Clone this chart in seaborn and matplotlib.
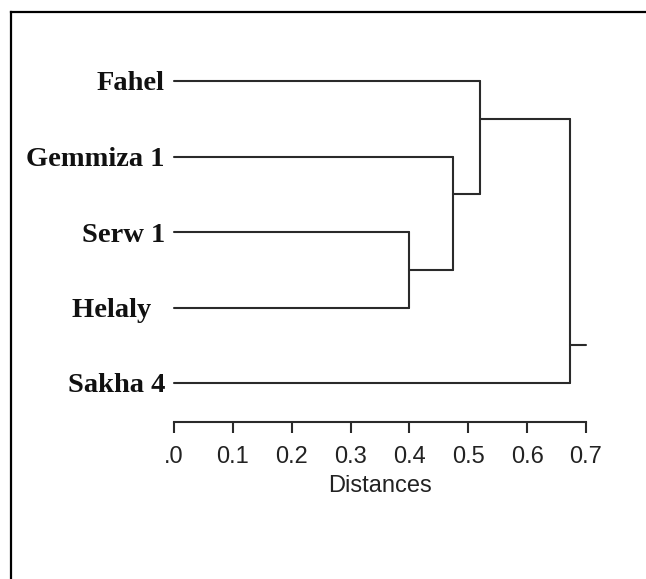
import numpy as np
import pandas as pd
import matplotlib
matplotlib.use("Agg")
import matplotlib.pyplot as plt
import seaborn as sns

# leaves, top to bottom (the Helaly label carries trailing spaces in the original)
leaves = ["Fahel", "Gemmiza 1", "Serw 1", "Helaly  ", "Sakha 4"]
# merges (left child, right child) -> new cluster c1, c2, ...
merge_left = ["Serw 1", "Gemmiza 1", "Fahel", "c3"]
merge_right = ["Helaly  ", "c1", "c2", "Sakha 4"]
merge_dist = [0.40, 0.474, 0.52, 0.673]
root_tail = 0.70

tick_vals = [0.0, 0.1, 0.2, 0.3, 0.4, 0.5, 0.6, 0.7]
tick_text = [".0", "0.1", "0.2", "0.3", "0.4", "0.5", "0.6", "0.7"]

sns.set_style("white")
plt.rcParams["font.family"] = ["Liberation Sans", "DejaVu Sans"]

# build line segments of the tree
nodes = {}
for i, name in enumerate(leaves):
    # x, anchor y, first leaf, last leaf
    nodes[name] = (0.0, float(i), i, i)

rows = []
seg = 0
for k in range(len(merge_dist)):
    a = nodes[merge_left[k]]
    b = nodes[merge_right[k]]
    d = merge_dist[k]
    # horizontal from each child, then the vertical join
    for child in (a, b):
        rows.append((seg, child[0], child[1])); rows.append((seg, d, child[1])); seg += 1
    rows.append((seg, d, a[1])); rows.append((seg, d, b[1])); seg += 1
    anchor = (a[3] + b[2]) / 2
    nodes["c%d" % (k + 1)] = (d, anchor, a[2], b[3])

root = nodes["c%d" % len(merge_dist)]
rows.append((seg, root[0], root[1])); rows.append((seg, root_tail, root[1]))

df = pd.DataFrame(rows, columns=["seg", "dist", "pos"])

W, H = 646, 579
fig = plt.figure(figsize=(W / 100, H / 100), dpi=100)
ax = fig.add_axes([11 / W, 0, (W - 11) / W, (H - 12) / H])

sns.lineplot(data=df, x="dist", y="pos", units="seg", estimator=None, sort=False,
             color="#2a2a2a", linewidth=1.5, ax=ax)

# pixel mapping: dist 0 -> px 174, 0.1 -> 58.86 px ; leaf 0 -> py 81, step 75.5
sx, x0 = 588.6, 174
sy, y0 = 75.5, 81
ax.set_xlim((11 - x0) / sx, (W - x0) / sx)
ax.set_ylim((H - y0) / sy, (12 - y0) / sy)
ax.set_xlabel("")
ax.set_ylabel("")
ax.set_xticks([])
ax.set_yticks([])
for s in ["right", "bottom"]:
    ax.spines[s].set_visible(False)
for s in ["left", "top"]:
    ax.spines[s].set_color("black")
    ax.spines[s].set_linewidth(1.6)

for i, name in enumerate(leaves):
    ax.annotate(name, (0, i), xytext=(-6.5, 0), textcoords="offset points",
                ha="right", va="center_baseline", fontsize=20.5, fontweight="bold",
                family=["Liberation Serif", "DejaVu Serif"], color="#111111")

# distance scale
ax2 = fig.add_axes([x0 / W, (H - 422) / H, (586 - x0) / W, 0.001])
ax2.set_xlim(0, 0.7)
ax2.set_yticks([])
ax2.patch.set_visible(False)
for s in ["left", "right", "top"]:
    ax2.spines[s].set_visible(False)
ax2.spines["bottom"].set_color("#2a2a2a")
ax2.spines["bottom"].set_linewidth(1.5)
ax2.set_xticks(tick_vals)
ax2.set_xticklabels(tick_text)
ax2.tick_params(axis="x", direction="out", length=8, width=1.5, color="#2a2a2a",
                pad=9, labelsize=17, labelcolor="#222222", bottom=True)
ax2.set_xlabel("Distances", fontsize=17, color="#222222", labelpad=5)

fig.savefig("out.png", dpi=100)
